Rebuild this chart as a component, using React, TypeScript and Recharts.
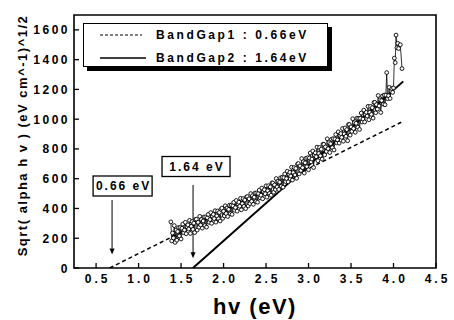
import React from 'react'
import { ComposedChart, Line, XAxis, YAxis, ReferenceArea, ReferenceLine, ReferenceDot, Label } from 'recharts'

// measured spectrum: photon energy (eV)
const hv = [
  1.38, 1.39, 1.4, 1.41, 1.42, 1.43, 1.44, 1.45, 1.46, 1.47, 1.48, 1.49, 1.5, 1.51, 1.52, 1.53, 1.54, 1.55, 1.56, 1.57,
  1.58, 1.59, 1.6, 1.61, 1.62, 1.63, 1.64, 1.65, 1.66, 1.67, 1.68, 1.69, 1.7, 1.71, 1.72, 1.73, 1.74, 1.75, 1.76, 1.77,
  1.78, 1.79, 1.8, 1.81, 1.82, 1.83, 1.84, 1.85, 1.86, 1.87, 1.88, 1.89, 1.9, 1.91, 1.92, 1.93, 1.94, 1.95, 1.96, 1.97,
  1.98, 1.99, 2.0, 2.01, 2.02, 2.03, 2.04, 2.05, 2.06, 2.07, 2.08, 2.09, 2.1, 2.11, 2.12, 2.13, 2.14, 2.15, 2.16, 2.17,
  2.18, 2.19, 2.2, 2.21, 2.22, 2.23, 2.24, 2.25, 2.26, 2.27, 2.28, 2.29, 2.3, 2.31, 2.32, 2.33, 2.34, 2.35, 2.36, 2.37,
  2.38, 2.39, 2.4, 2.41, 2.42, 2.43, 2.44, 2.45, 2.46, 2.47, 2.48, 2.49, 2.5, 2.51, 2.52, 2.53, 2.54, 2.55, 2.56, 2.57,
  2.58, 2.59, 2.6, 2.61, 2.62, 2.63, 2.64, 2.65, 2.66, 2.67, 2.68, 2.69, 2.7, 2.71, 2.72, 2.73, 2.74, 2.75, 2.76, 2.77,
  2.78, 2.79, 2.8, 2.81, 2.82, 2.83, 2.84, 2.85, 2.86, 2.87, 2.88, 2.89, 2.9, 2.91, 2.92, 2.93, 2.94, 2.95, 2.96, 2.97,
  2.98, 2.99, 3.0, 3.01, 3.02, 3.03, 3.04, 3.05, 3.06, 3.07, 3.08, 3.09, 3.1, 3.11, 3.12, 3.13, 3.14, 3.15, 3.16, 3.17,
  3.18, 3.19, 3.2, 3.21, 3.22, 3.23, 3.24, 3.25, 3.26, 3.27, 3.28, 3.29, 3.3, 3.31, 3.32, 3.33, 3.34, 3.35, 3.36, 3.37,
  3.38, 3.39, 3.4, 3.41, 3.42, 3.43, 3.44, 3.45, 3.46, 3.47, 3.48, 3.49, 3.5, 3.51, 3.52, 3.53, 3.54, 3.55, 3.56, 3.57,
  3.58, 3.59, 3.6, 3.61, 3.62, 3.63, 3.64, 3.65, 3.66, 3.67, 3.68, 3.69, 3.7, 3.71, 3.72, 3.73, 3.74, 3.75, 3.76, 3.77,
  3.78, 3.79, 3.8, 3.81, 3.82, 3.83, 3.84, 3.85, 3.86, 3.87, 3.88, 3.89, 3.9, 3.91, 3.92, 3.93, 3.94, 3.95, 3.96, 3.97,
  3.98, 3.99, 4.0, 4.01, 4.02, 4.03, 4.04, 4.05, 4.06, 4.08, 4.1,
]
// sqrt(alpha h v) at each energy
const sqrtAlpha = [
  310, 182, 235, 202, 285, 172, 255, 187, 245, 272, 215, 272, 195, 267, 295, 237, 255, 307, 230, 277,
  290, 262, 320, 232, 280, 312, 259, 301, 238, 326, 328, 255, 307, 274, 347, 289, 326, 268, 316, 343,
  285, 343, 275, 337, 360, 307, 325, 372, 300, 347, 360, 332, 385, 308, 350, 383, 331, 373, 316, 394,
  402, 334, 382, 350, 418, 366, 403, 346, 394, 422, 365, 422, 360, 418, 441, 388, 406, 454, 382, 430,
  442, 415, 468, 391, 433, 466, 414, 457, 399, 477, 480, 417, 465, 433, 500, 448, 486, 428, 476, 504,
  447, 504, 442, 500, 523, 471, 489, 537, 465, 513, 526, 499, 552, 476, 519, 553, 501, 545, 489, 572,
  571, 509, 558, 527, 601, 545, 584, 528, 577, 606, 550, 609, 543, 607, 632, 581, 601, 650, 579, 629,
  643, 618, 677, 591, 641, 675, 625, 669, 603, 698, 702, 632, 686, 655, 735, 674, 714, 638, 707, 737,
  681, 741, 660, 739, 773, 713, 732, 786, 675, 759, 774, 748, 812, 721, 770, 810, 754, 798, 732, 832,
  831, 760, 814, 783, 868, 802, 842, 776, 835, 865, 809, 869, 793, 867, 897, 841, 861, 915, 839, 889,
  903, 878, 937, 852, 901, 941, 885, 930, 855, 964, 964, 893, 948, 918, 1003, 937, 977, 912, 972, 1007,
  946, 1006, 931, 1006, 1041, 981, 1001, 1061, 981, 1031, 1046, 1021, 1086, 996, 1046, 1086, 1032, 1077, 1007, 1112,
  1113, 1043, 1098, 1068, 1159, 1089, 1130, 1045, 1125, 1156, 1101, 1162, 1097, 1162, 1313, 1138, 1158, 1214, 1139, 1189,
  1205, 1180, 1210, 1410, 1380, 1565, 1480, 1510, 1475, 1500, 1340,
]

// linear fits (start and end points)
const gap1X = [0.66, 4.115]
const gap1Y = [0, 986]
const gap2X = [1.64, 4.115]
const gap2Y = [0, 1254]

const xTicks = [0.5, 0.75, 1, 1.25, 1.5, 1.75, 2, 2.25, 2.5, 2.75, 3, 3.25, 3.5, 3.75, 4, 4.25, 4.5]
const yTicks = [0, 100, 200, 300, 400, 500, 600, 700, 800, 900, 1000, 1100, 1200, 1300, 1400, 1500, 1600]

const legendItems = ['BandGap1 : 0.66eV', 'BandGap2 : 1.64eV']

const spectrum = hv.map((x, i) => ({ x, y: sqrtAlpha[i] }))
const gap1 = gap1X.map((x, i) => ({ x, y: gap1Y[i] }))
const gap2 = gap2X.map((x, i) => ({ x, y: gap2Y[i] }))

const font = '"Liberation Sans", Arial, sans-serif'

const XTick = (props: any) => {
  const { x, y, payload } = props
  const v = payload.value
  const major = Math.abs(v * 2 - Math.round(v * 2)) < 1e-6
  return (
    <g>
      <line x1={x} x2={x} y1={y} y2={y - (major ? 5 : 3)} stroke="#000" strokeWidth={1.3} />
      {major && (
        <text x={x + 1.5} y={y + 15} textAnchor="middle" fontFamily={font} fontWeight="bold" fontSize={12} letterSpacing={3} fill="#000">
          {v.toFixed(1)}
        </text>
      )}
    </g>
  )
}

const YTick = (props: any) => {
  const { x, y, payload } = props
  const v = payload.value
  const major = v % 200 === 0
  return (
    <g>
      <line x1={x} x2={x + (major ? 5 : 3)} y1={y} y2={y} stroke="#000" strokeWidth={1.3} />
      {major && (
        <text x={x - 4} y={y + 4.5} textAnchor="end" fontFamily={font} fontWeight="bold" fontSize={12} letterSpacing={2.5} fill="#000">
          {v}
        </text>
      )}
    </g>
  )
}

const boxLabel = (text: string, w: number) => (props: any) => {
  const { cx, cy } = props
  return (
    <g>
      <rect x={cx - w / 2} y={cy - 10} width={w} height={20} fill="#fff" stroke="#000" strokeWidth={1.3} />
      <text x={cx + 1} y={cy + 4.5} textAnchor="middle" fontFamily={font} fontWeight="bold" fontSize={12} letterSpacing={2} fill="#000">
        {text}
      </text>
    </g>
  )
}

const arrowHead = (props: any) => {
  const { cx, cy } = props
  return <path d={`M${cx - 2.5},${cy - 6} L${cx + 2.5},${cy - 6} L${cx},${cy} Z`} fill="#000" />
}

export default function App() {
  return (
    <div style={{ position: 'absolute', left: 0, top: 0, width: 454, height: 320, background: '#fff' }}>
      <ComposedChart width={454} height={320} margin={{ top: 15, right: 18, bottom: 2, left: 14 }}>
        <XAxis
          dataKey="x"
          type="number"
          domain={[0.24, 4.5]}
          ticks={xTicks}
          allowDataOverflow
          axisLine={false}
          tickLine={false}
          tickSize={0}
          tickMargin={0}
          tick={<XTick />}
          height={50}
        >
          <Label
            content={(p: any) => (
              <text x={p.viewBox.x + p.viewBox.width / 2} y={p.viewBox.y + 46} textAnchor="middle" fontFamily={font} fontWeight="bold" fontSize={22} letterSpacing={1.5} fill="#000">
                hv (eV)
              </text>
            )}
          />
        </XAxis>
        <YAxis
          type="number"
          domain={[0, 1700]}
          ticks={yTicks}
          allowDataOverflow
          axisLine={false}
          tickLine={false}
          tickSize={0}
          tickMargin={0}
          tick={<YTick />}
          width={60}
        >
          <Label
            content={(p: any) => {
              const cx = p.viewBox.x + 8
              const cy = p.viewBox.y + p.viewBox.height / 2 - 6
              return (
                <text x={cx} y={cy} transform={`rotate(-90 ${cx} ${cy})`} textAnchor="middle" dominantBaseline="central" fontFamily={font} fontWeight="bold" fontSize={13} letterSpacing={1.5} fill="#000">
                  Sqrt( alpha h v ) (eV cm^-1)^1/2
                </text>
              )
            }}
          />
        </YAxis>
        <ReferenceArea x1={0.24} x2={4.5} y1={0} y2={1700} fill="none" stroke="#000" strokeWidth={1.6} fillOpacity={0} ifOverflow="visible" />
        <Line data={gap1} dataKey="y" type="linear" stroke="#000" strokeWidth={1.5} strokeDasharray="4 3" dot={false} isAnimationActive={false} />
        <Line data={gap2} dataKey="y" type="linear" stroke="#000" strokeWidth={2} dot={false} isAnimationActive={false} />
        <Line
          data={spectrum}
          dataKey="y"
          type="linear"
          stroke="#000"
          strokeWidth={0.8}
          dot={{ r: 1.9, fill: '#fff', stroke: '#000', strokeWidth: 0.9 }}
          isAnimationActive={false}
        />
        <ReferenceLine segment={[{ x: 0.688, y: 457 }, { x: 0.688, y: 130 }]} stroke="#000" strokeWidth={1} ifOverflow="visible" />
        <ReferenceDot x={0.688} y={90} r={0} shape={arrowHead} ifOverflow="visible" />
        <ReferenceLine segment={[{ x: 1.641, y: 558 }, { x: 1.641, y: 100 }]} stroke="#000" strokeWidth={1} ifOverflow="visible" />
        <ReferenceDot x={1.641} y={65} r={0} shape={arrowHead} ifOverflow="visible" />
        <ReferenceDot x={0.812} y={551} r={0} shape={boxLabel('0.66 eV', 59)} ifOverflow="visible" />
        <ReferenceDot x={1.676} y={682} r={0} shape={boxLabel('1.64 eV', 68)} ifOverflow="visible" />
      </ComposedChart>
      <div
        style={{
          position: 'absolute',
          left: 83,
          top: 23,
          width: 243,
          height: 42,
          border: '1.3px solid #000',
          boxShadow: '4px 4px 0 #000',
          background: '#fff',
          fontFamily: font,
          fontWeight: 'bold',
          fontSize: 12,
          letterSpacing: 2.6,
        }}
      >
        {legendItems.map((t, i) => (
          <div key={t} style={{ position: 'absolute', left: 0, top: i === 0 ? 3 : 26, height: 16, display: 'flex', alignItems: 'center' }}>
            <svg width={72} height={16} style={{ display: 'block' }}>
              {i === 0 ? (
                <line x1={16} x2={58} y1={8} y2={8} stroke="#000" strokeWidth={1.2} strokeDasharray="3 2" />
              ) : (
                <line x1={16} x2={62} y1={8} y2={8} stroke="#000" strokeWidth={1.6} />
              )}
            </svg>
            <span style={{ whiteSpace: 'nowrap' }}>{t}</span>
          </div>
        ))}
      </div>
    </div>
  )
}
